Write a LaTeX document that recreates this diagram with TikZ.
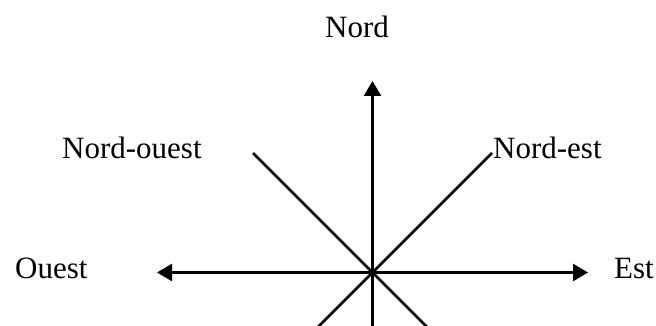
\documentclass[tikz,border=0pt]{standalone}
\usepackage{fontspec}
\setmainfont{Liberation Serif}
\usetikzlibrary{arrows.meta}
\begin{document}
\begin{tikzpicture}[x=1pt,y=-1pt,
  axis/.style={line width=2.5pt,-{Triangle[length=15pt,width=17pt]}},
  axisboth/.style={line width=2.5pt,{Triangle[length=15pt,width=17pt]}-{Triangle[length=15pt,width=17pt]}},
  diag/.style={line width=2.5pt},
  lbl/.style={anchor=base west,inner sep=0pt,font=\fontsize{31}{37}\selectfont}]
\useasboundingbox (0,0) rectangle (656,326);
\clip (0,0) rectangle (656,326);
\coordinate (c) at (372.5,272.5);
\coordinate (n) at (372.5,81);
\coordinate (s) at (372.5,330);
\coordinate (w) at (157,272.5);
\coordinate (e) at (588,272.5);
\coordinate (nw) at (253,153);
\coordinate (ne) at (492,153);
\coordinate (se) at (430,330);
\coordinate (sw) at (315,330);
\draw[axis] (s) -- (n);
\draw[axisboth] (w) -- (e);
\draw[diag] (nw) -- (se);
\draw[diag] (ne) -- (sw);
\node[lbl] (tn) at (325,38) {Nord};
\node[lbl] (tnw) at (62,158) {Nord-ouest};
\node[lbl] (tne) at (493,158) {Nord-est};
\node[lbl] (to) at (15,278) {Ouest};
\node[lbl] (te) at (614,278) {Est};
\end{tikzpicture}
\end{document}
